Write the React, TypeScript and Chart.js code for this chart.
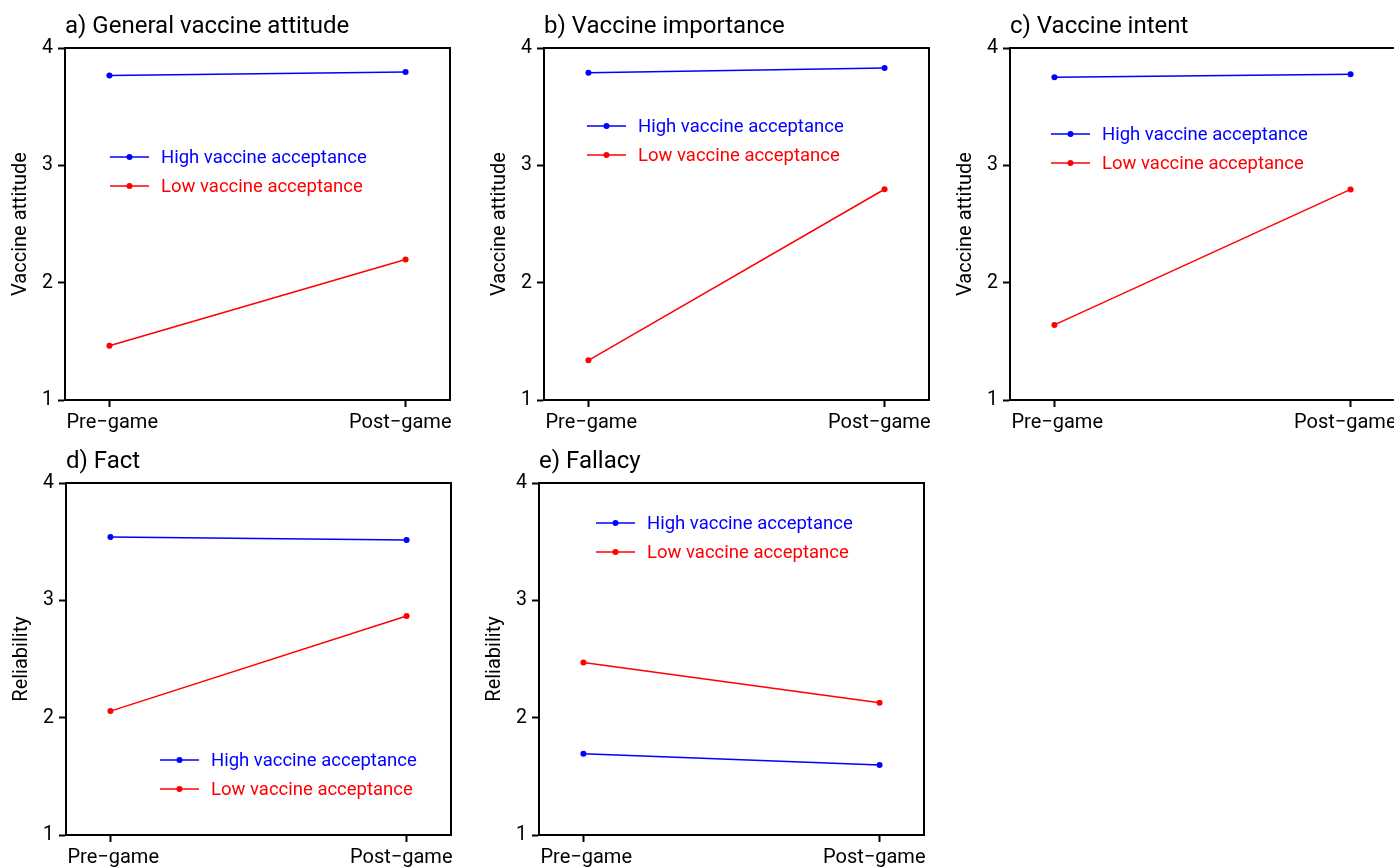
import React, { useEffect, useRef } from "react";
import { Chart, registerables } from "chart.js";

Chart.register(...registerables);

const categories = ["Pre−game", "Post−game"];
const seriesNames = ["High vaccine acceptance", "Low vaccine acceptance"];
const yTickValues = [1, 2, 3, 4];

const attitudeHigh = [3.766, 3.795];
const attitudeLow = [1.462, 2.197];
const importanceHigh = [3.79, 3.83];
const importanceLow = [1.338, 2.796];
const intentHigh = [3.75, 3.776];
const intentLow = [1.64, 2.795];
const factHigh = [3.54, 3.514];
const factLow = [2.056, 2.866];
const fallacyHigh = [1.692, 1.596];
const fallacyLow = [2.471, 2.127];

const FONT = "Roboto";
const BLUE = "#0000ff";
const RED = "#ff0000";

const Y_AXIS_W = 65;
const X_AXIS_H = 44;
const PAD_TOP = 48;
const PAD_RIGHT = 22;
const PLOT_W = 385;
const PLOT_H = 352;
const X_MIN = -0.15;
const X_MAX = 1.15;

type PanelCfg = {
  title: string;
  yTitle: string;
  high: number[];
  low: number[];
  plotLeft: number;
  plotTop: number;
  legendDx: number;
  legendDy: number;
};

const panels: PanelCfg[] = [
  { title: "a) General vaccine attitude", yTitle: "Vaccine attitude", high: attitudeHigh, low: attitudeLow, plotLeft: 65, plotTop: 48, legendDx: 45, legendDy: 109 },
  { title: "b) Vaccine importance", yTitle: "Vaccine attitude", high: importanceHigh, low: importanceLow, plotLeft: 544, plotTop: 48, legendDx: 43, legendDy: 78 },
  { title: "c) Vaccine intent", yTitle: "Vaccine attitude", high: intentHigh, low: intentLow, plotLeft: 1010, plotTop: 48, legendDx: 41, legendDy: 86 },
  { title: "d) Fact", yTitle: "Reliability", high: factHigh, low: factLow, plotLeft: 66, plotTop: 483, legendDx: 94, legendDy: 277 },
  { title: "e) Fallacy", yTitle: "Reliability", high: fallacyHigh, low: fallacyLow, plotLeft: 539, plotTop: 483, legendDx: 57, legendDy: 40 },
];

const decorPlugin = {
  id: "panelDecor",
  afterDraw(chart: any, _args: any, opts: any) {
    const { ctx, chartArea } = chart;
    const { left, right, top } = chartArea;
    ctx.save();
    // top and right frame
    ctx.strokeStyle = "#000";
    ctx.lineWidth = 2;
    ctx.lineCap = "square";
    ctx.beginPath();
    ctx.moveTo(left, top);
    ctx.lineTo(right, top);
    ctx.lineTo(right, chartArea.bottom);
    ctx.stroke();
    // title
    ctx.fillStyle = "#000";
    ctx.font = `24px ${FONT}`;
    ctx.textAlign = "left";
    ctx.textBaseline = "alphabetic";
    ctx.fillText(opts.title, left, top - 15);
    // legend
    ctx.font = `18.5px ${FONT}`;
    ctx.textBaseline = "middle";
    chart.data.datasets.forEach((ds: any, i: number) => {
      const x0 = left + opts.dx;
      const y = top + opts.dy + i * 29;
      ctx.strokeStyle = ds.borderColor;
      ctx.lineWidth = 1.5;
      ctx.lineCap = "butt";
      ctx.beginPath();
      ctx.moveTo(x0, y);
      ctx.lineTo(x0 + 39, y);
      ctx.stroke();
      ctx.fillStyle = ds.borderColor;
      ctx.beginPath();
      ctx.arc(x0 + 19.5, y, 3, 0, Math.PI * 2);
      ctx.fill();
      ctx.fillText(ds.label, x0 + 51, y + 1);
    });
    ctx.restore();
  },
};

function Panel({ cfg }: { cfg: PanelCfg }) {
  const ref = useRef<HTMLCanvasElement>(null);
  const w = Y_AXIS_W + PLOT_W + PAD_RIGHT;
  const h = PAD_TOP + PLOT_H + X_AXIS_H;
  useEffect(() => {
    if (!ref.current) return;
    const mk = (vals: number[]) => vals.map((v, i) => ({ x: i, y: v }));
    // tick entries: edge anchors carry the (inner-aligned) labels, the category positions carry the tick marks
    const xTickValues = [X_MIN, ...categories.map((_, i) => i), X_MAX];
    const lastIdx = xTickValues.length - 1;
    const chart = new Chart(ref.current, {
      type: "line",
      data: {
        datasets: [
          { label: seriesNames[0], data: mk(cfg.high), borderColor: BLUE, backgroundColor: BLUE, borderWidth: 1.5, pointRadius: 3, pointBorderWidth: 0, pointBackgroundColor: BLUE },
          { label: seriesNames[1], data: mk(cfg.low), borderColor: RED, backgroundColor: RED, borderWidth: 1.5, pointRadius: 3, pointBorderWidth: 0, pointBackgroundColor: RED },
        ],
      },
      options: {
        responsive: false,
        maintainAspectRatio: false,
        animation: false,
        events: [],
        layout: { padding: { top: PAD_TOP, right: PAD_RIGHT, left: 0, bottom: 0 } },
        scales: {
          x: {
            type: "linear",
            min: X_MIN,
            max: X_MAX,
            afterBuildTicks: (s: any) => {
              s.ticks = xTickValues.map((v) => ({ value: v }));
            },
            afterFit: (s: any) => {
              s.height = X_AXIS_H;
            },
            ticks: {
              callback: (_v: any, idx: number) => (idx === 0 ? categories[0] : idx === lastIdx ? categories[categories.length - 1] : ""),
              font: { family: FONT, size: 20 },
              color: "#000",
              padding: 4,
              align: "inner",
              labelOffset: 1.5,
              autoSkip: false,
              maxRotation: 0,
            },
            grid: {
              display: true,
              drawOnChartArea: false,
              drawTicks: true,
              tickLength: 7,
              tickWidth: 2,
              tickColor: (c: any) => (c.index === 0 || c.index === lastIdx ? "rgba(0,0,0,0)" : "#000"),
            },
            border: { display: true, color: "#000", width: 2 },
          },
          y: {
            type: "linear",
            min: 1,
            max: 4,
            afterBuildTicks: (s: any) => {
              s.ticks = yTickValues.map((v) => ({ value: v }));
            },
            afterFit: (s: any) => {
              s.width = Y_AXIS_W;
            },
            title: { display: true, text: cfg.yTitle, font: { family: FONT, size: 20 }, color: "#000", padding: { top: 9, bottom: 0 } },
            ticks: { font: { family: FONT, size: 19.5 }, color: "#000", padding: 5, callback: (v: any) => String(v) },
            grid: { display: true, drawOnChartArea: false, drawTicks: true, tickLength: 7, tickWidth: 2, tickColor: "#000" },
            border: { display: true, color: "#000", width: 2 },
          },
        },
        plugins: {
          legend: { display: false },
          tooltip: { enabled: false },
          title: { display: false },
          panelDecor: { title: cfg.title, dx: cfg.legendDx, dy: cfg.legendDy },
        } as any,
      },
      plugins: [decorPlugin],
    });
    return () => chart.destroy();
  }, [cfg]);
  return (
    <canvas
      ref={ref}
      width={w}
      height={h}
      style={{ position: "absolute", left: cfg.plotLeft - Y_AXIS_W, top: cfg.plotTop - PAD_TOP, width: w, height: h }}
    />
  );
}

export default function App() {
  return (
    <div style={{ position: "fixed", left: 0, top: 0, width: 1394, height: 868, overflow: "hidden", background: "#fff" }}>
      {panels.map((p, i) => (
        <Panel key={i} cfg={p} />
      ))}
    </div>
  );
}
